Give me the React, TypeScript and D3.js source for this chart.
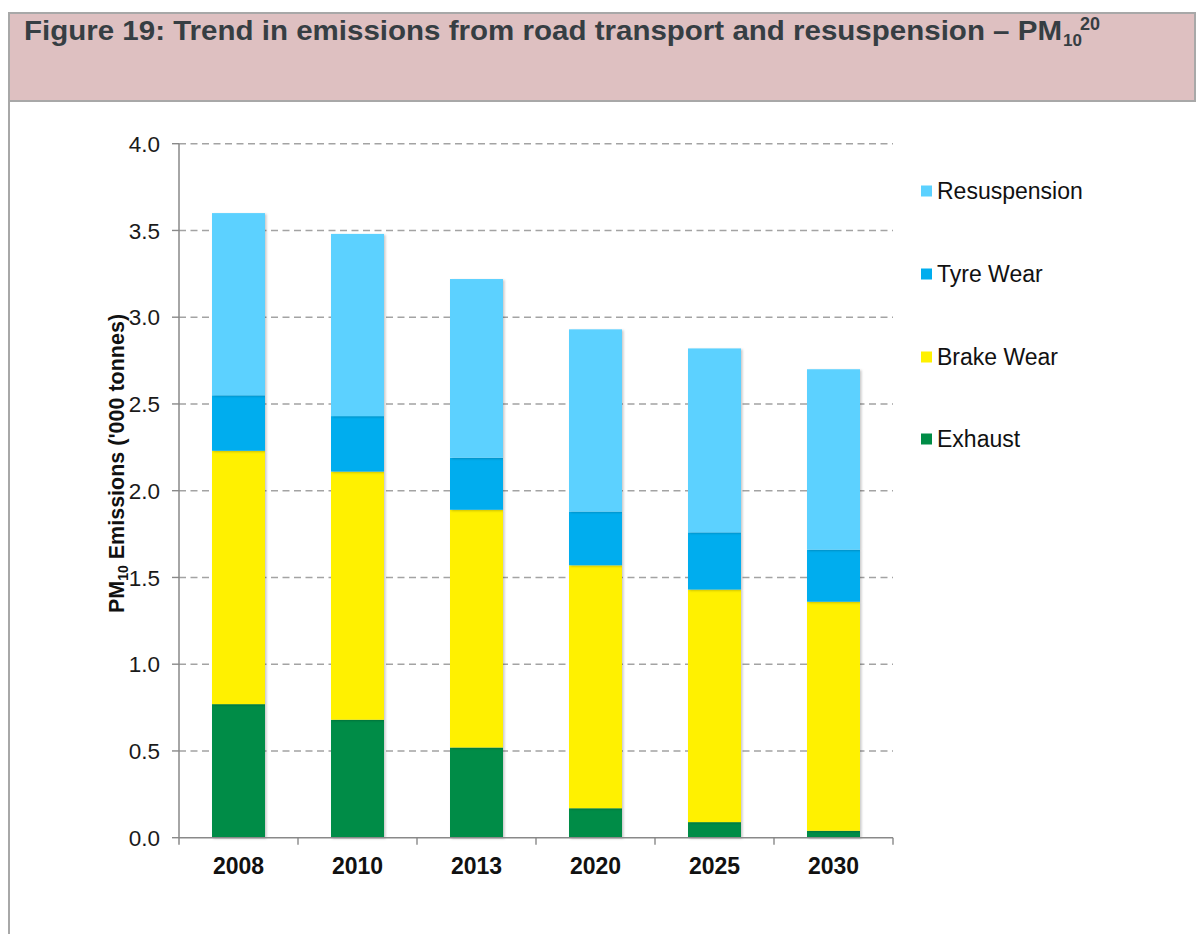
import React from "react";
import * as d3 from "d3";

const years = ["2008", "2010", "2013", "2020", "2025", "2030"];
const exhaust = [0.77, 0.68, 0.52, 0.17, 0.09, 0.04];
const brakeWear = [1.46, 1.43, 1.37, 1.4, 1.34, 1.32];
const tyreWear = [0.32, 0.32, 0.3, 0.31, 0.33, 0.3];
const resuspension = [1.05, 1.05, 1.03, 1.05, 1.06, 1.04];
const yTicks = [0, 0.5, 1, 1.5, 2, 2.5, 3, 3.5, 4];

const seriesNames = ["Exhaust", "Brake Wear", "Tyre Wear", "Resuspension"];
const seriesColors = ["#008C46", "#FFF100", "#00ADEE", "#5BD1FF"];
const seriesValues = [exhaust, brakeWear, tyreWear, resuspension];

const W = 1197;
const H = 934;
const plotLeft = 179;
const plotRight = 893;
const plotTop = 143.7;
const plotBottom = 837.7;
const FONT = "'Liberation Sans', Arial, Helvetica, sans-serif";
const AXIS = "#898989";
const GRID = "#A3A3A3";

export default function App() {
  const table = years.map((y, i) => {
    const row: any = { year: y };
    seriesNames.forEach((s, k) => (row[s] = seriesValues[k][i]));
    return row;
  });
  const stack = d3.stack().keys(seriesNames)(table as any);

  const p = 1 - 53 / 119;
  const x = d3
    .scaleBand<string>()
    .domain(years)
    .range([plotLeft, plotRight])
    .paddingInner(p)
    .paddingOuter(p / 2);
  const y = d3.scaleLinear().domain([0, 4]).range([plotBottom, plotTop]);
  const step = x.step();

  const legendOrder = [3, 2, 1, 0];
  const legendY = [191, 274, 357, 439];

  return (
    <svg
      width={W}
      height={H}
      style={{ position: "absolute", left: 0, top: 0, background: "#fff" }}
      fontFamily={FONT}
    >
      <defs>
        <filter id="sh" x="-10%" y="-10%" width="130%" height="130%">
          <feDropShadow dx="1.5" dy="1" stdDeviation="1" floodColor="#000" floodOpacity="0.22" />
        </filter>
      </defs>
      {/* header box */}
      <rect x={9} y={13} width={1186} height={88} fill="#DEC0C1" stroke="#A8A8A8" strokeWidth={2} />
      <line x1={9} y1={101} x2={9} y2={H} stroke="#A8A8A8" strokeWidth={2} />
      <text
        x={24}
        y={40}
        fontSize={27}
        fontWeight="bold"
        fill="#363E43"
        textLength={1038}
        lengthAdjust="spacingAndGlyphs"
      >
        Figure 19: Trend in emissions from road transport and resuspension – PM
      </text>
      <text x={1063} y={46} fontSize={17} fontWeight="bold" fill="#363E43">10</text>
      <text x={1080} y={30} fontSize={18} fontWeight="bold" fill="#363E43">20</text>

      {/* gridlines */}
      {yTicks.map((t) => (
        <g key={"g" + t}>
          {t > 0 && (
            <line
              x1={plotLeft}
              x2={plotRight}
              y1={y(t)}
              y2={y(t)}
              stroke={GRID}
              strokeWidth={1.4}
              strokeDasharray="7 4.5"
            />
          )}
          <line x1={plotLeft - 7} x2={plotLeft} y1={y(t)} y2={y(t)} stroke={AXIS} strokeWidth={1.4} />
          <text
            x={160}
            y={y(t)}
            dy="0.36em"
            textAnchor="end"
            fontSize={22.5}
            fill="#1a1a1a"
          >
            {t.toFixed(1)}
          </text>
        </g>
      ))}

      {/* bars */}
      {stack.map((s, k) => (
        <g key={s.key} fill={seriesColors[k]}>
          {s.map((d: any, i: number) => (
            <rect
              key={i}
              x={x(years[i])}
              y={y(d[1])}
              width={x.bandwidth()}
              height={y(d[0]) - y(d[1])}
              filter="url(#sh)"
            />
          ))}
        </g>
      ))}

      {/* axes */}
      <line x1={plotLeft} x2={plotLeft} y1={plotTop} y2={plotBottom + 7} stroke={AXIS} strokeWidth={1.5} />
      <line x1={plotLeft} x2={plotRight} y1={plotBottom} y2={plotBottom} stroke={AXIS} strokeWidth={1.5} />
      {years.map((yr, i) => (
        <g key={"x" + yr}>
          <line
            x1={plotLeft + step * (i + 1)}
            x2={plotLeft + step * (i + 1)}
            y1={plotBottom}
            y2={plotBottom + 7}
            stroke={AXIS}
            strokeWidth={1.4}
          />
          <text
            x={(x(yr) as number) + x.bandwidth() / 2}
            y={874}
            textAnchor="middle"
            fontSize={23}
            fontWeight="bold"
            fill="#111"
          >
            {yr}
          </text>
        </g>
      ))}

      {/* y label */}
      <text
        transform={`translate(123.5,${(314 + 613) / 2}) rotate(-90)`}
        textAnchor="middle"
        fontSize={21.5}
        fontWeight="bold"
        fill="#111"
      >
        PM<tspan fontSize={14} dy={4}>10</tspan>
        <tspan dy={-4}> Emissions ('000 tonnes)</tspan>
      </text>

      {/* legend */}
      {legendOrder.map((k, j) => (
        <g key={"l" + k}>
          <rect x={921} y={legendY[j] - 5.5} width={11} height={11} fill={seriesColors[k]} />
          <text x={937} y={legendY[j]} dy="0.36em" fontSize={23} fill="#111">
            {seriesNames[k]}
          </text>
        </g>
      ))}
    </svg>
  );
}
